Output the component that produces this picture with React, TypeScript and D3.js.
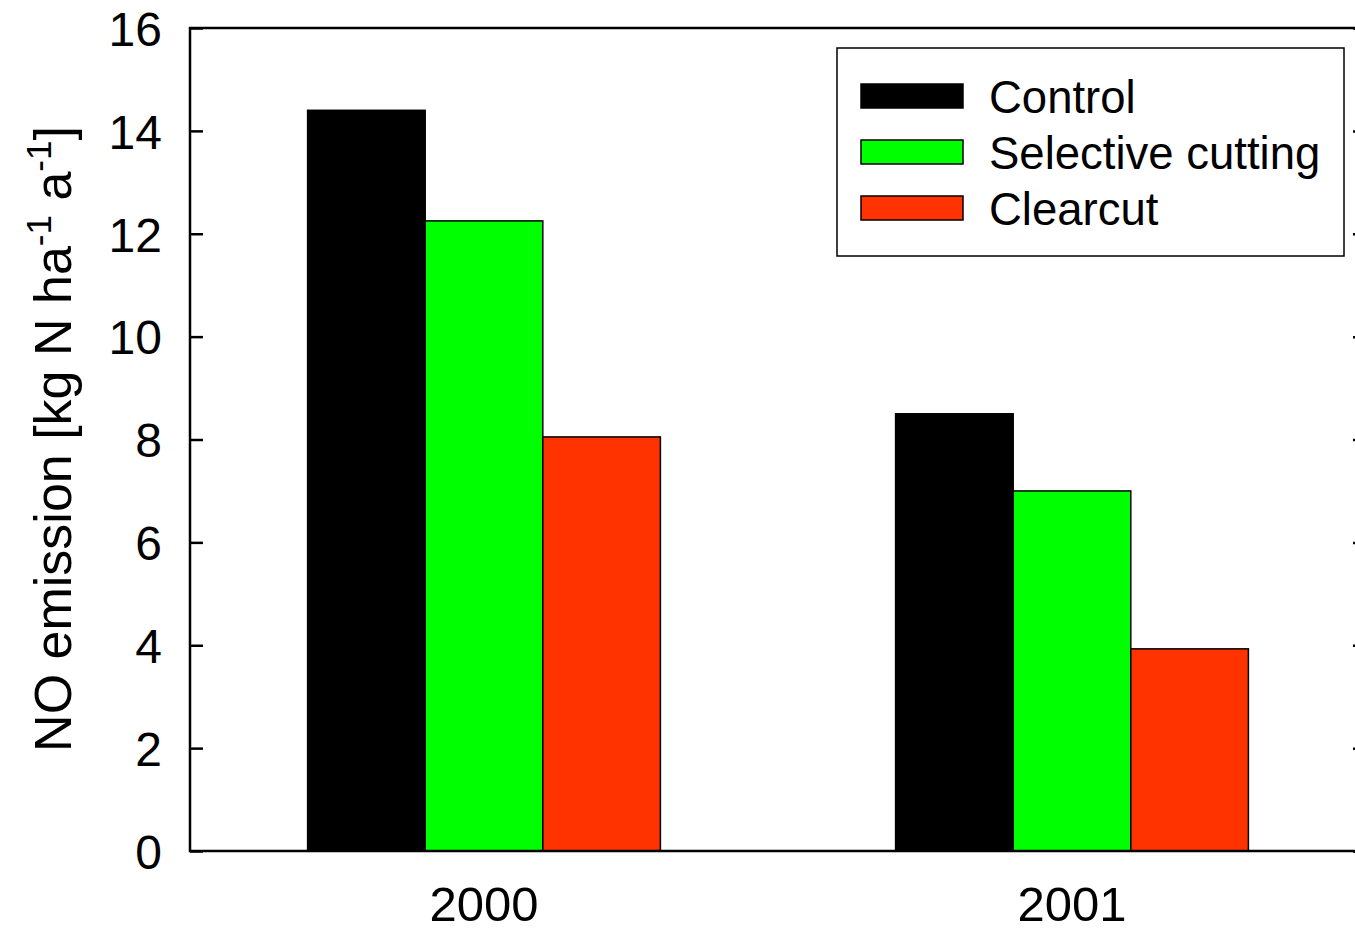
import React, { useEffect, useRef } from 'react';
import * as d3 from 'd3';

const years = ['2000', '2001'];
const treatments = ['Control', 'Selective cutting', 'Clearcut'];
const colors = ['#000000', '#00ff00', '#ff3300'];
const controlValues = [14.4, 8.5];
const selectiveValues = [12.25, 7.0];
const clearcutValues = [8.05, 3.93];
const yTicks = [0, 2, 4, 6, 8, 10, 12, 14, 16];

const App = () => {
    const chartRef = useRef<SVGSVGElement | null>(null);

    useEffect(() => {
        const svg = d3.select(chartRef.current);
        svg.selectAll('*').remove();

        const left = 190;
        const right = 1366;
        const top = 28;
        const bottom = 851;
        const font = 'Arial, "Liberation Sans", sans-serif';

        const seriesValues = [controlValues, selectiveValues, clearcutValues];
        const data = years.map((year, i) => ({
            year,
            values: treatments.map((t, j) => ({ key: t, value: seriesValues[j][i], color: colors[j] })),
        }));

        const x0 = d3.scaleBand().domain(years).range([left, right]).paddingInner(0.4).paddingOuter(0.2);
        const x1 = d3.scaleBand().domain(treatments).range([0, x0.bandwidth()]);
        const y = d3.scaleLinear().domain([0, 16]).range([bottom, top]);

        // bars
        const groups = svg
            .selectAll('.group')
            .data(data)
            .enter()
            .append('g')
            .attr('transform', (d) => `translate(${x0(d.year)},0)`);

        groups
            .selectAll('rect')
            .data((d) => d.values)
            .enter()
            .append('rect')
            .attr('x', (d) => x1(d.key) as number)
            .attr('y', (d) => y(d.value))
            .attr('width', x1.bandwidth())
            .attr('height', (d) => y(0) - y(d.value))
            .attr('fill', (d) => d.color)
            .attr('stroke', '#000')
            .attr('stroke-width', 1.5);

        // frame
        svg.append('rect')
            .attr('x', left)
            .attr('y', top)
            .attr('width', right - left)
            .attr('height', bottom - top)
            .attr('fill', 'none')
            .attr('stroke', '#000')
            .attr('stroke-width', 2.5);

        // left axis
        const yAxis = svg.append('g')
            .attr('transform', `translate(${left},0)`)
            .call(d3.axisLeft(y).tickValues(yTicks).tickSizeInner(-13).tickSizeOuter(0).tickPadding(28));
        yAxis.select('.domain').remove();
        yAxis.selectAll('line').attr('stroke-width', 2.5);
        yAxis.selectAll('text').attr('font-size', 48).attr('font-family', font).attr('fill', '#000').attr('dy', '0.36em');

        // right axis ticks
        const yAxisR = svg.append('g')
            .attr('transform', `translate(${right},0)`)
            .call(d3.axisRight(y).tickValues(yTicks).tickSizeInner(-13).tickSizeOuter(0).tickFormat(() => ''));
        yAxisR.select('.domain').remove();
        yAxisR.selectAll('line').attr('stroke-width', 2.5);

        // x labels
        svg.selectAll('.xlabel')
            .data(years)
            .enter()
            .append('text')
            .attr('x', (d) => (x0(d) as number) + x0.bandwidth() / 2)
            .attr('y', 921)
            .attr('text-anchor', 'middle')
            .attr('font-size', 49)
            .attr('font-family', font)
            .text((d) => d);

        // y title
        const title = svg.append('text')
            .attr('transform', 'translate(71,439) rotate(-90)')
            .attr('text-anchor', 'middle')
            .attr('font-size', 52)
            .attr('font-family', font);
        title.append('tspan').text('NO emission [kg N ha');
        title.append('tspan').attr('font-size', 35).attr('dy', -20).text('-1');
        title.append('tspan').attr('dy', 20).text('  a');
        title.append('tspan').attr('font-size', 35).attr('dy', -20).text('-1');
        title.append('tspan').attr('dy', 20).text(']');

        // legend
        const legend = svg.append('g');
        legend.append('rect')
            .attr('x', 837)
            .attr('y', 48)
            .attr('width', 507)
            .attr('height', 208)
            .attr('fill', '#fff')
            .attr('stroke', '#000')
            .attr('stroke-width', 1.5);

        const items = legend.selectAll('.item')
            .data(treatments)
            .enter()
            .append('g')
            .attr('transform', (d, i) => `translate(0,${96 + i * 56})`);

        items.append('rect')
            .attr('x', 861)
            .attr('y', -12)
            .attr('width', 102)
            .attr('height', 24)
            .attr('fill', (d, i) => colors[i])
            .attr('stroke', '#000')
            .attr('stroke-width', 1.5);

        items.append('text')
            .attr('x', 989)
            .attr('y', 17)
            .attr('font-size', 45.5)
            .attr('font-family', font)
            .text((d) => d);
    }, []);

    return (
        <svg
            ref={chartRef}
            width={1355}
            height={934}
            style={{ position: 'absolute', left: 0, top: 0, background: '#fff' }}
        ></svg>
    );
};

export default App;
